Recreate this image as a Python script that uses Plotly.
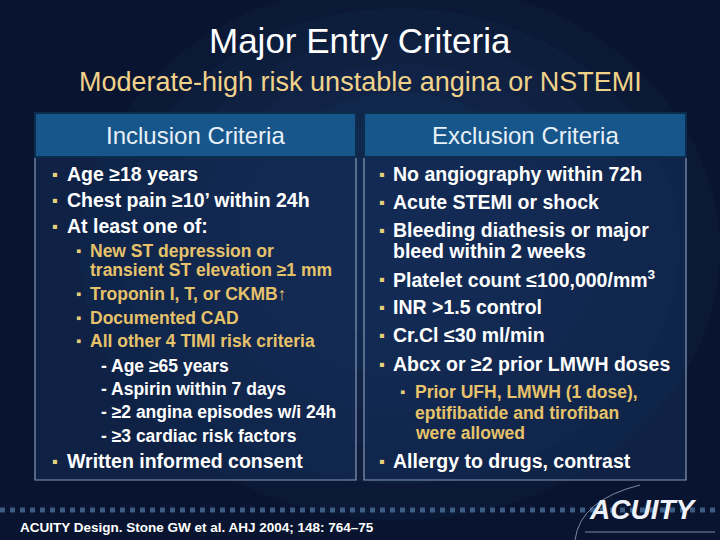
import plotly.graph_objects as go

title = "Major Entry Criteria"
subtitle = "Moderate-high risk unstable angina or NSTEMI"
headers = ["Inclusion Criteria", "Exclusion Criteria"]

# (level, text): 0 = main bullet, 1 = sub bullet, 2 = dash item,
# 3 = continuation of sub bullet, 4 = continuation of main bullet
inclusion = [
    (0, "Age ≥18 years"),
    (0, "Chest pain ≥10’ within 24h"),
    (0, "At least one of:"),
    (1, "New ST depression or"),
    (3, "transient ST elevation ≥1 mm"),
    (1, "Troponin I, T, or CKMB↑"),
    (1, "Documented CAD"),
    (1, "All other 4 TIMI risk criteria"),
    (2, "- Age ≥65 years"),
    (2, "- Aspirin within 7 days"),
    (2, "- ≥2 angina episodes w/i 24h"),
    (2, "- ≥3 cardiac risk factors"),
    (0, "Written informed consent"),
]
exclusion = [
    (0, "No angiography within 72h"),
    (0, "Acute STEMI or shock"),
    (0, "Bleeding diathesis or major"),
    (4, "bleed within 2 weeks"),
    (0, "Platelet count ≤100,000/mm<sup>3</sup>"),
    (0, "INR >1.5 control"),
    (0, "Cr.Cl ≤30 ml/min"),
    (0, "Abcx or ≥2 prior LMWH doses"),
    (1, "Prior UFH, LMWH (1 dose),"),
    (3, "eptifibatide and tirofiban"),
    (3, "were allowed"),
    (0, "Allergy to drugs, contrast"),
]
footnote = "ACUITY Design. Stone GW et al. AHJ 2004; 148: 764–75"
logo = "ACUITY"

# layout positions (pixels)
inc_y = [174, 200, 226, 251, 270, 294, 318, 341, 366, 389, 412, 436, 461]
exc_y = [174, 202, 230, 251, 279, 307, 335, 364, 392, 413, 433, 461]
inc_x = dict(b0=55, t0=65, b1=78, t1=88, d=99)
exc_x = dict(b0=382, t0=391, b1=402, t1=413, d=413)
GOLD = "#e6c26a"
BUL = "#e8cf7a"
FONT = "Liberation Sans, Arial"

fig = go.Figure()
shapes = []
ann = []

# background glow (several faint layers)
shapes.append(dict(type="rect", x0=0, x1=720, y0=0, y1=540, fillcolor="#091530", line_width=0, layer="below"))
for k in range(6):
    d = k * 40
    shapes.append(dict(type="circle", x0=80 + d, x1=720 - d, y0=-20 + d * 0.7, y1=520 - d * 0.9,
                       fillcolor="rgba(45,85,145,0.07)", line_width=0, layer="below"))

for i, (x0, x1) in enumerate([(35, 356), (364, 686)]):
    shapes.append(dict(type="rect", x0=x0, x1=x1, y0=157, y1=480, fillcolor="rgba(20,45,90,0.55)",
                       line=dict(color="#8797b5", width=1.2)))
    shapes.append(dict(type="rect", x0=x0, x1=x1, y0=113, y1=157, fillcolor="#17568a",
                       line=dict(color="#0c2c4c", width=2)))
    ann.append(dict(x=(x0 + x1) / 2, y=135, text=headers[i], font=dict(size=24, color="#e8f0f8", family=FONT)))

def add_lines(items, ys, px):
    for (lvl, txt), y in zip(items, ys):
        size = 19.5 if lvl in (0, 4) else 17.5
        if lvl == 0:
            color, x, bx = "white", px["t0"], px["b0"]
        elif lvl == 1:
            color, x, bx = GOLD, px["t1"], px["b1"]
        elif lvl == 2:
            color, x, bx = "white", px["d"], None
        elif lvl == 3:
            color, x, bx = GOLD, px["t1"], None
        else:
            color, x, bx = "white", px["t0"], None
        if bx is not None:
            ann.append(dict(x=bx, y=y, text="▪", xanchor="center", font=dict(size=size - 3, color=BUL, family=FONT)))
        ann.append(dict(x=x, y=y, text=f"<b>{txt}</b>", xanchor="left", font=dict(size=size, color=color, family=FONT)))

add_lines(inclusion, inc_y, inc_x)
add_lines(exclusion, exc_y, exc_x)

ann.append(dict(x=360, y=40, text=title, font=dict(size=35, color="white", family=FONT)))
ann.append(dict(x=360, y=82, text=subtitle, font=dict(size=27, color="#f0d28a", family=FONT)))
ann.append(dict(x=18, y=527, text=f"<b>{footnote}</b>", xanchor="left", font=dict(size=13.5, color="white", family=FONT)))
ann.append(dict(x=643, y=509, text=f"<b><i>{logo}</i></b>", font=dict(size=28, color="#eef2f8", family=FONT)))
shapes.append(dict(type="line", x0=0, x1=720, y0=510, y1=510, line=dict(color="rgba(100,150,200,0.55)", width=5, dash="dot"), layer="below"))
shapes.append(dict(type="line", x0=585, x1=715, y0=532, y1=532, line=dict(color="rgba(200,210,230,0.6)", width=1)))
shapes.append(dict(type="path", path="M 575 540 Q 580 500 640 485", line=dict(color="rgba(200,210,230,0.6)", width=1)))

for a in ann:
    a.update(showarrow=False, xref="x", yref="y", yanchor="middle")

fig.update_layout(
    width=720, height=540, margin=dict(l=0, r=0, t=0, b=0),
    paper_bgcolor="#091530", plot_bgcolor="#091530",
    xaxis=dict(range=[0, 720], visible=False, fixedrange=True),
    yaxis=dict(range=[540, 0], visible=False, fixedrange=True),
    shapes=shapes, annotations=ann, showlegend=False,
)
fig.write_html("out.html", config=dict(displayModeBar=False),
               post_script="document.body.style.margin='0';document.body.style.overflow='hidden';")
